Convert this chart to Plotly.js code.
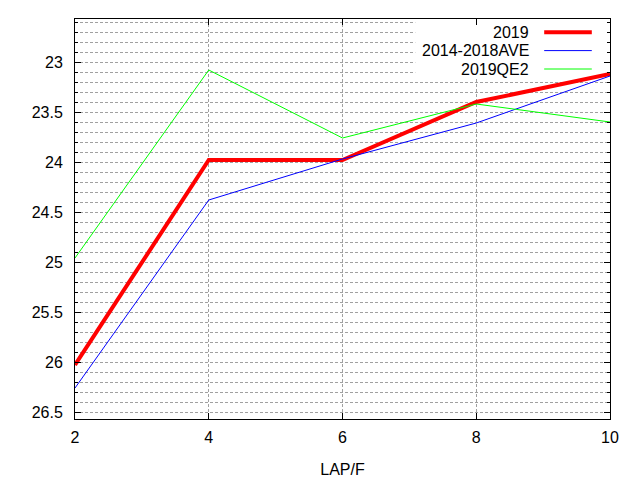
<!DOCTYPE html>
<html lang="en">
  <head>
    <meta charset="UTF-8" />
    <title>LAP/F</title>
    <script src="https://cdn.plot.ly/plotly-3.0.1.min.js"></script>
    <style>
      body {
        margin: 0;
        padding: 0;
        background: #fff;
      }
      #plot {
        width: 640px;
        height: 480px;
      }
    </style>
  </head>
  <body>
    <div id="plot"></div>
    <script>
      // values
      const laps = [2, 4, 6, 8, 10];
      const names = ["2019", "2014-2018AVE", "2019QE2"];
      const colors = ["#ff0000", "#0000ff", "#00ff00"];
      const widths = [4, 1, 1];
      const y2019 = [26.03, 23.98, 23.98, 23.4, 23.12];
      const yAve = [26.26, 24.38, 23.97, 23.61, 23.14];
      const yQE2 = [24.96, 23.08, 23.76, 23.42, 23.6];
      const series = [y2019, yAve, yQE2];

      const xRange = [2, 10];
      const yRange = [26.57, 22.57];

      const font = "Liberation Sans, Arial, sans-serif";
      const gridDash = "3px,2px";
      const gridColor = "#a0a0a0";

      const traces = series.map((ys, i) => ({
        x: laps,
        y: ys,
        type: "scatter",
        mode: "lines",
        name: names[i],
        line: { color: colors[i], width: widths[i] },
        hoverinfo: "skip",
      }));

      // fraction of the plot area -> axis value
      const fx = (f) => xRange[0] + f * (xRange[1] - xRange[0]);
      const fy = (f) => yRange[0] + f * (yRange[1] - yRange[0]);

      // gnuplot style key: text on the left, sample line on the right
      const rowY = [0.967, 0.921, 0.875];
      const annotations = names.map((n, i) => ({
        xref: "paper",
        yref: "paper",
        x: 0.853,
        y: rowY[i],
        xanchor: "right",
        yanchor: "middle",
        text: n,
        showarrow: false,
        font: { family: font, size: 16, color: "#000" },
      }));
      const shapes = [
        {
          type: "rect",
          xref: "x",
          yref: "y",
          x0: fx(0.636),
          x1: fx(1),
          y0: fy(0.853),
          y1: fy(1),
          fillcolor: "#fff",
          line: { width: 0 },
          layer: "between",
        },
      ].concat(
        names.map((n, i) => ({
          type: "line",
          xref: "paper",
          yref: "paper",
          x0: 0.877,
          x1: 0.966,
          y0: rowY[i],
          y1: rowY[i],
          line: { color: colors[i], width: widths[i] },
          layer: "above",
        }))
      );

      const layout = {
        width: 640,
        height: 480,
        margin: { l: 75, r: 30, t: 19, b: 61 },
        paper_bgcolor: "#fff",
        plot_bgcolor: "#fff",
        showlegend: false,
        font: { family: font, size: 16, color: "#000" },
        xaxis: {
          range: xRange,
          tick0: 2,
          dtick: 2,
          ticks: "inside",
          ticklen: 6,
          tickcolor: "#000",
          showline: true,
          linecolor: "#000",
          linewidth: 1,
          mirror: "allticks",
          showgrid: true,
          gridcolor: gridColor,
          griddash: gridDash,
          gridwidth: 1,
          zeroline: false,
          ticklabelstandoff: 4,
          tickfont: { family: font, size: 16 },
          title: { text: "LAP/F", font: { family: font, size: 16 }, standoff: 18 },
        },
        yaxis: {
          range: yRange,
          tick0: 23,
          dtick: 0.5,
          ticks: "inside",
          ticklen: 6,
          tickcolor: "#000",
          showline: true,
          linecolor: "#000",
          linewidth: 1,
          mirror: "allticks",
          showgrid: true,
          gridcolor: gridColor,
          griddash: gridDash,
          gridwidth: 1,
          zeroline: false,
          ticklabelstandoff: 8,
          tickfont: { family: font, size: 16 },
          minor: {
            dtick: 0.1,
            tick0: 23,
            ticks: "inside",
            ticklen: 3,
            tickcolor: "#000",
            showgrid: true,
            gridcolor: gridColor,
            griddash: gridDash,
            gridwidth: 1,
          },
        },
        annotations: annotations,
        shapes: shapes,
      };

      Plotly.newPlot("plot", traces, layout, { displayModeBar: false, staticPlot: true });
    </script>
  </body>
</html>
